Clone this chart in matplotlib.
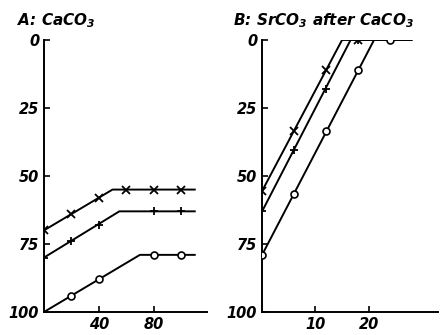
import matplotlib.pyplot as plt

plt.rcParams['mathtext.fontset'] = 'custom'
plt.rcParams['mathtext.rm'] = 'DejaVu Sans:bold:italic'
plt.rcParams['mathtext.it'] = 'DejaVu Sans:bold:italic'
plt.rcParams['mathtext.default'] = 'rm'

# panel A: CaCO3
a_line_x = [[0, 50, 110], [0, 55, 110], [0, 70, 110]]
a_line_y = [[70, 55, 55], [80, 63, 63], [100, 79, 79]]
a_pts_x = [[0, 20, 40, 60, 80, 100], [0, 20, 40, 80, 100], [20, 40, 80, 100]]
a_pts_y = [[70, 64, 58, 55, 55, 55], [80, 74, 68, 63, 63], [94, 88, 79, 79]]

# panel B: SrCO3 after CaCO3
b_line_x = [[0, 15, 28], [0, 16.6, 28], [0, 21, 28]]
b_line_y = [[55.5, 0, 0], [63, 0, 0], [79, 0, 0]]
b_pts_x = [[0, 6, 12, 18], [0, 6, 12, 18], [0, 6, 12, 18, 24]]
b_pts_y = [[55.5, 33.5, 11, 0], [63, 40.5, 18, 0], [79, 56.5, 33.5, 11, 0]]

markers = ['x', '+', 'o']
fnt = dict(fontweight='bold', fontstyle='italic')

fig = plt.figure(figsize=(4.42, 3.35), dpi=100)
ax1 = fig.add_axes([0.0995, 0.0687, 0.369, 0.812])
ax2 = fig.add_axes([0.593, 0.0687, 0.398, 0.812])


def draw(ax, lx, ly, px, py, xlim, xticks):
    for i in range(3):
        ax.plot(lx[i], ly[i], color='black', lw=1.4, zorder=2)
        if markers[i] == 'o':
            ax.plot(px[i], py[i], 'o', ms=5, mfc='white', mec='black', mew=1.2, zorder=3)
        else:
            ax.plot(px[i], py[i], markers[i], ms=5.5, color='black', mew=1.3, zorder=3)
    ax.set_xlim(*xlim)
    ax.set_ylim(100, 0)
    ax.set_yticks([0, 25, 50, 75, 100])
    ax.set_xticks(xticks)
    ax.spines['top'].set_visible(False)
    ax.spines['right'].set_visible(False)
    ax.spines['left'].set_linewidth(1.4)
    ax.spines['bottom'].set_linewidth(1.4)
    ax.tick_params(direction='in', length=4, width=1.2, labelsize=10.5)
    for lab in ax.get_xticklabels() + ax.get_yticklabels():
        lab.set_fontweight('bold')
        lab.set_fontstyle('italic')


draw(ax1, a_line_x, a_line_y, a_pts_x, a_pts_y, (0, 119), [40, 80])
draw(ax2, b_line_x, b_line_y, b_pts_x, b_pts_y, (0, 33), [10, 20])

fig.text(0.038, 0.925, 'A: CaCO$_3$', fontsize=11, **fnt)
fig.text(0.527, 0.925, 'B: SrCO$_3$ after CaCO$_3$', fontsize=11, **fnt)

fig.savefig('out.png', dpi=100)
